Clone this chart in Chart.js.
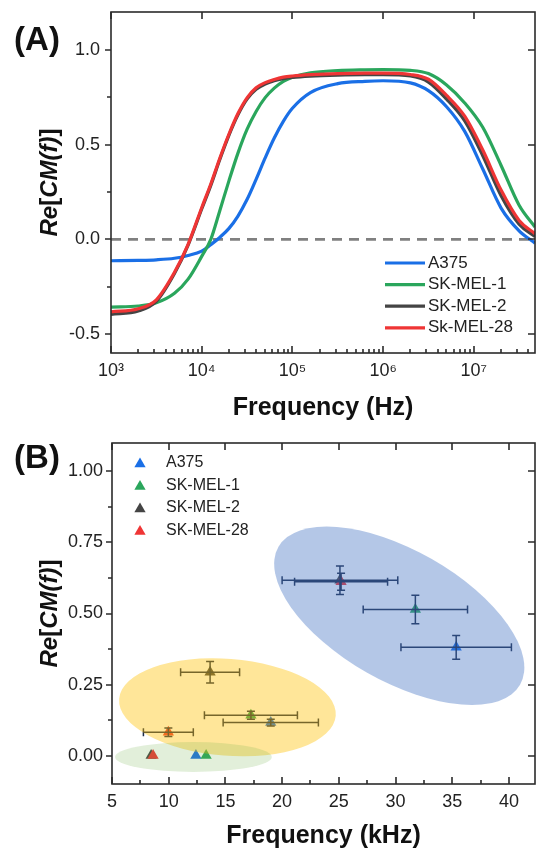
<!DOCTYPE html>
<html>
<head>
<meta charset="utf-8">
<script src="https://cdn.jsdelivr.net/npm/chart.js@4.4.1/dist/chart.umd.min.js"></script>
<style>
  html, body { margin: 0; padding: 0; background: #fff; overflow: hidden; }
  .panel { position: absolute; left: 0; width: 536px; height: 426px; }
  #panelA { top: 0; }
  #panelB { top: 426px; }
</style>
</head>
<body>
<div class="panel" id="panelA"><canvas id="chartA" width="536" height="426"></canvas></div>
<div class="panel" id="panelB"><canvas id="chartB" width="536" height="426"></canvas></div>
<script>
var FONT = "'Liberation Sans', Arial, sans-serif";

// ---------- panel A: Re[CM(f)] spectra ----------
var freqHz = [1000, 2000, 3160, 5010, 7080, 10000, 12600, 15800, 20000, 25100, 31600, 39800,
              50100, 63100, 79400, 100000, 158000, 316000, 631000, 1000000, 2000000, 3160000,
              5010000, 7940000, 12600000, 20000000, 31600000, 47300000];
var cmA375  = [-0.113, -0.111, -0.108, -0.100, -0.085, -0.062, -0.028, 0.010, 0.058, 0.123, 0.21, 0.317,
               0.43, 0.535, 0.623, 0.692, 0.775, 0.822, 0.834, 0.837, 0.826, 0.785,
               0.70, 0.57, 0.37, 0.165, 0.045, -0.02];
var cmMel1  = [-0.358, -0.352, -0.335, -0.285, -0.21, -0.09, 0.0, 0.15, 0.31, 0.455, 0.58, 0.675,
               0.748, 0.798, 0.834, 0.856, 0.879, 0.891, 0.895, 0.896, 0.892, 0.875,
               0.815, 0.72, 0.59, 0.39, 0.18, 0.065];
var cmMel2  = [-0.396, -0.378, -0.327, -0.18, -0.03, 0.16, 0.285, 0.42, 0.55, 0.657, 0.74, 0.792,
               0.82, 0.837, 0.848, 0.855, 0.862, 0.867, 0.869, 0.869, 0.862, 0.83,
               0.74, 0.625, 0.44, 0.23, 0.08, 0.015];
var cmMel28 = [-0.383, -0.366, -0.319, -0.174, -0.026, 0.167, 0.292, 0.427, 0.556, 0.664, 0.747, 0.80,
               0.827, 0.844, 0.856, 0.862, 0.869, 0.875, 0.877, 0.877, 0.87, 0.845,
               0.76, 0.65, 0.47, 0.26, 0.10, 0.03];
var zeroLineX = [1000, 47300000];
var zeroLineY = [0, 0];
var namesA = ['A375', 'SK-MEL-1', 'SK-MEL-2', 'Sk-MEL-28'];
var freqTicksA = [1e3, 1e4, 1e5, 1e6, 1e7];
var freqTickLabelsA = ['10\u00b3', '10\u2074', '10\u2075', '10\u2076', '10\u2077'];
var cmTicksA = [-0.5, 0, 0.5, 1.0];
var cmTickLabelsA = ['-0.5', '0.0', '0.5', '1.0'];
var cmMinorA = [-0.25, 0.25, 0.75];

// ---------- panel B: crossover points ----------
var namesB = ['A375', 'SK-MEL-1', 'SK-MEL-2', 'SK-MEL-28'];
var kHzA375  = [12.4, 19.0, 35.35];
var cmPtA375 = [0, 0.116, 0.381];
var kHzErrA375 = [0, 4.2, 4.87];
var cmErrA375  = [0, 0.012, 0.042];
var kHzMel1  = [13.3, 17.25, 31.75];
var cmPtMel1 = [0, 0.142, 0.514];
var kHzErrMel1 = [0, 4.1, 4.6];
var cmErrMel1  = [0, 0.014, 0.05];
var kHzMel2  = [8.45, 13.65, 25.1];
var cmPtMel2 = [0, 0.293, 0.617];
var kHzErrMel2 = [0, 2.6, 5.1];
var cmErrMel2  = [0, 0.038, 0.05];
var kHzMel28  = [8.62, 9.97, 25.2];
var cmPtMel28 = [0, 0.082, 0.612];
var kHzErrMel28 = [0, 2.2, 4.1];
var cmErrMel28  = [0, 0.015, 0.03];
var kHzTicks = [5, 10, 15, 20, 25, 30, 35, 40];
var kHzTickLabels = ['5', '10', '15', '20', '25', '30', '35', '40'];
var kHzMinor = [7.5, 12.5, 17.5, 22.5, 27.5, 32.5, 37.5];
var cmTicksB = [0, 0.25, 0.5, 0.75, 1.0];
var cmTickLabelsB = ['0.00', '0.25', '0.50', '0.75', '1.00'];
var cmMinorB = [0.125, 0.375, 0.625, 0.875];
// cluster ellipses, in data units: centre and two conjugate half-axes
var ellCx = [30.33, 15.18, 12.18];
var ellCy = [0.492, 0.170, -0.005];
var ellU = [[10.65, -0.2425], [9.55, -0.0298], [6.91, 0]];
var ellV = [[-2.87, -0.1996], [-0.336, -0.170], [0, 0.0526]];

var colors = ['#1a6fe6', '#2aa65c', '#444444', '#ef3535'];
var ellColors = ['rgba(68,114,196,0.4)', 'rgba(255,192,0,0.4)', 'rgba(112,173,71,0.2)'];

function pts(xs, ys) {
    return xs.map(function (x, i) { return { x: x, y: ys[i] }; });
}

function minorLog(decades, max) {
    var out = [];
    decades.forEach(function (d) {
        for (var m = 2; m <= 9; m++) { if (d * m <= max) out.push(d * m); }
    });
    return out;
}

// y title: Re[CM(f)] with italic parts, rotated
function drawYTitle(ctx, x, yc) {
    var parts = [['Re', true], ['[', false], ['CM(', true], ['f', true], [')', true], [']', false]];
    var size = 24;
    var total = 0;
    parts.forEach(function (p) {
        ctx.font = (p[1] ? 'italic ' : '') + 'bold ' + size + 'px ' + FONT;
        total += ctx.measureText(p[0]).width;
    });
    ctx.save();
    ctx.translate(x, yc);
    ctx.rotate(-Math.PI / 2);
    ctx.textBaseline = 'alphabetic';
    ctx.textAlign = 'left';
    ctx.fillStyle = '#111';
    var cx = -total / 2;
    parts.forEach(function (p) {
        ctx.font = (p[1] ? 'italic ' : '') + 'bold ' + size + 'px ' + FONT;
        ctx.fillText(p[0], cx, 0);
        cx += ctx.measureText(p[0]).width;
    });
    ctx.restore();
}

var frameTicks = {
    id: 'frameTicks',
    afterDraw: function (chart, args, o) {
        var ctx = chart.ctx, a = chart.chartArea, xs = chart.scales.x, ys = chart.scales.y;
        ctx.save();
        ctx.strokeStyle = '#2b2b2b';
        ctx.lineWidth = 1.6;
        ctx.strokeRect(a.left, a.top, a.right - a.left, a.bottom - a.top);
        ctx.beginPath();
        o.xMajor.forEach(function (v) {
            var px = Math.round(xs.getPixelForValue(v));
            ctx.moveTo(px, a.bottom); ctx.lineTo(px, a.bottom - 7);
            ctx.moveTo(px, a.top); ctx.lineTo(px, a.top + 7);
        });
        o.xMinor.forEach(function (v) {
            var px = Math.round(xs.getPixelForValue(v));
            ctx.moveTo(px, a.bottom); ctx.lineTo(px, a.bottom - 4);
        });
        o.yMajor.forEach(function (v) {
            var py = Math.round(ys.getPixelForValue(v));
            ctx.moveTo(a.left, py); ctx.lineTo(a.left - 6, py);
            ctx.moveTo(a.right, py); ctx.lineTo(a.right - 7, py);
        });
        o.yMinor.forEach(function (v) {
            var py = Math.round(ys.getPixelForValue(v));
            ctx.moveTo(a.left, py); ctx.lineTo(a.left - 4, py);
        });
        ctx.stroke();
        // panel letter
        ctx.fillStyle = '#111';
        ctx.font = 'bold 33px ' + FONT;
        ctx.textAlign = 'center';
        ctx.textBaseline = 'middle';
        ctx.fillText(o.letter, 37, o.letterY);
        ctx.restore();
        drawYTitle(ctx, 57, (a.top + a.bottom) / 2);
    }
};

var lineLegend = {
    id: 'lineLegend',
    afterDraw: function (chart) {
        var ctx = chart.ctx;
        ctx.save();
        ctx.font = '17px ' + FONT;
        ctx.textBaseline = 'middle';
        ctx.textAlign = 'left';
        namesA.forEach(function (name, i) {
            var y = 263 + i * 21.6;
            ctx.strokeStyle = colors[i];
            ctx.lineWidth = 3.2;
            ctx.beginPath();
            ctx.moveTo(385, y); ctx.lineTo(425, y);
            ctx.stroke();
            ctx.fillStyle = '#222';
            ctx.fillText(name, 428, y);
        });
        ctx.restore();
    }
};

function triangle(ctx, x, y, r) {
    ctx.beginPath();
    ctx.moveTo(x, y - r);
    ctx.lineTo(x + r * Math.cos(Math.PI / 6), y + r / 2);
    ctx.lineTo(x - r * Math.cos(Math.PI / 6), y + r / 2);
    ctx.closePath();
    ctx.fill();
}

var errorsAndClusters = {
    id: 'errorsAndClusters',
    afterDatasetsDraw: function (chart) {
        var ctx = chart.ctx, xs = chart.scales.x, ys = chart.scales.y;
        var sets = [[kHzA375, cmPtA375, kHzErrA375, cmErrA375],
                    [kHzMel1, cmPtMel1, kHzErrMel1, cmErrMel1],
                    [kHzMel2, cmPtMel2, kHzErrMel2, cmErrMel2],
                    [kHzMel28, cmPtMel28, kHzErrMel28, cmErrMel28]];
        ctx.save();
        ctx.strokeStyle = '#1c2a48';
        ctx.lineWidth = 1.5;
        ctx.beginPath();
        sets.forEach(function (s) {
            s[0].forEach(function (fx, i) {
                var px = xs.getPixelForValue(fx), py = ys.getPixelForValue(s[1][i]);
                if (s[2][i] > 0) {
                    var x0 = xs.getPixelForValue(fx - s[2][i]), x1 = xs.getPixelForValue(fx + s[2][i]);
                    ctx.moveTo(x0, py); ctx.lineTo(x1, py);
                    ctx.moveTo(x0, py - 4); ctx.lineTo(x0, py + 4);
                    ctx.moveTo(x1, py - 4); ctx.lineTo(x1, py + 4);
                }
                if (s[3][i] > 0) {
                    var y0 = ys.getPixelForValue(s[1][i] - s[3][i]), y1 = ys.getPixelForValue(s[1][i] + s[3][i]);
                    ctx.moveTo(px, y0); ctx.lineTo(px, y1);
                    ctx.moveTo(px - 4, y0); ctx.lineTo(px + 4, y0);
                    ctx.moveTo(px - 4, y1); ctx.lineTo(px + 4, y1);
                }
            });
        });
        ctx.stroke();
        // translucent cluster ellipses on top
        ellCx.forEach(function (cx, k) {
            var c0x = xs.getPixelForValue(cx), c0y = ys.getPixelForValue(ellCy[k]);
            var ux = xs.getPixelForValue(cx + ellU[k][0]) - c0x, uy = ys.getPixelForValue(ellCy[k] + ellU[k][1]) - c0y;
            var vx = xs.getPixelForValue(cx + ellV[k][0]) - c0x, vy = ys.getPixelForValue(ellCy[k] + ellV[k][1]) - c0y;
            ctx.save();
            ctx.translate(c0x, c0y);
            ctx.transform(ux, uy, vx, vy, 0, 0);
            ctx.beginPath();
            ctx.arc(0, 0, 1, 0, Math.PI * 2);
            ctx.restore();
            ctx.fillStyle = ellColors[k];
            ctx.fill();
        });
        ctx.restore();
    },
    afterDraw: function (chart) {
        var ctx = chart.ctx;
        ctx.save();
        ctx.font = '16px ' + FONT;
        ctx.textBaseline = 'middle';
        ctx.textAlign = 'left';
        namesB.forEach(function (name, i) {
            var y = 37 + i * 22.5;
            ctx.fillStyle = colors[i];
            triangle(ctx, 140, y + 1, 6.5);
            ctx.fillStyle = '#222';
            ctx.fillText(name, 166, y);
        });
        ctx.restore();
    }
};

var tickFont = { family: FONT, size: 18 };

// pin the plot box: no automatic label overhang padding
function fixX(h) {
    return function (s) { s.height = h; s.paddingLeft = 0; s.paddingRight = 0; };
}
function fixY(w) {
    return function (s) { s.width = w; s.paddingTop = 0; s.paddingBottom = 0; };
}

new Chart(document.getElementById('chartA'), {
    type: 'line',
    data: {
        datasets: [
            { label: 'zero', data: pts(zeroLineX, zeroLineY), borderColor: '#808080', borderWidth: 2.6,
              borderDash: [10, 7], pointRadius: 0, order: 4 },
            { label: namesA[0], data: pts(freqHz, cmA375), borderColor: colors[0], borderWidth: 3.2,
              pointRadius: 0, cubicInterpolationMode: 'monotone', order: 3 },
            { label: namesA[1], data: pts(freqHz, cmMel1), borderColor: colors[1], borderWidth: 3.2,
              pointRadius: 0, cubicInterpolationMode: 'monotone', order: 2 },
            { label: namesA[2], data: pts(freqHz, cmMel2), borderColor: colors[2], borderWidth: 3.2,
              pointRadius: 0, cubicInterpolationMode: 'monotone', order: 1 },
            { label: namesA[3], data: pts(freqHz, cmMel28), borderColor: colors[3], borderWidth: 3.2,
              pointRadius: 0, cubicInterpolationMode: 'monotone', order: 0 }
        ]
    },
    options: {
        responsive: false,
        animation: false,
        layout: { autoPadding: false, padding: { top: 12, right: 1, left: 0, bottom: 0 } },
        plugins: {
            legend: { display: false },
            tooltip: { enabled: false },
            frameTicks: { xMajor: freqTicksA, xMinor: minorLog(freqTicksA, 47300000),
                          yMajor: cmTicksA, yMinor: cmMinorA, letter: '(A)', letterY: 41 }
        },
        scales: {
            x: {
                type: 'logarithmic', min: 1000, max: 47300000,
                grid: { display: false, drawTicks: false }, border: { display: false },
                afterBuildTicks: function (s) { s.ticks = freqTicksA.map(function (v) { return { value: v }; }); },
                afterFit: fixX(73),
                ticks: { autoSkip: false, maxRotation: 0, padding: 7, color: '#222', font: tickFont,
                         callback: function (v, i) { return freqTickLabelsA[i]; } },
                title: { display: true, text: 'Frequency (Hz)', color: '#111',
                         font: { family: FONT, size: 25, weight: 'bold' }, padding: { top: 0, bottom: 3 } }
            },
            y: {
                min: -0.6, max: 1.2,
                grid: { display: false, drawTicks: false }, border: { display: false },
                afterBuildTicks: function (s) { s.ticks = cmTicksA.map(function (v) { return { value: v }; }); },
                afterFit: fixY(111),
                ticks: { autoSkip: false, padding: 11, color: '#222', font: tickFont,
                         callback: function (v, i) { return cmTickLabelsA[i]; } }
            }
        }
    },
    plugins: [frameTicks, lineLegend]
});

function scatterSet(i, xs, ys, order) {
    return { label: namesB[i], data: pts(xs, ys), pointStyle: 'triangle', pointRadius: 6.5,
             backgroundColor: colors[i], borderWidth: 0, order: order };
}

new Chart(document.getElementById('chartB'), {
    type: 'scatter',
    data: {
        datasets: [
            scatterSet(0, kHzA375, cmPtA375, 3),
            scatterSet(1, kHzMel1, cmPtMel1, 2),
            scatterSet(2, kHzMel2, cmPtMel2, 1),
            scatterSet(3, kHzMel28, cmPtMel28, 0)
        ]
    },
    options: {
        responsive: false,
        animation: false,
        layout: { autoPadding: false, padding: { top: 17, right: 1, left: 0, bottom: 0 } },
        plugins: {
            legend: { display: false },
            tooltip: { enabled: false },
            frameTicks: { xMajor: kHzTicks, xMinor: kHzMinor, yMajor: cmTicksB, yMinor: cmMinorB,
                          letter: '(B)', letterY: 33 }
        },
        scales: {
            x: {
                type: 'linear', min: 5, max: 42.3,
                grid: { display: false, drawTicks: false }, border: { display: false },
                afterBuildTicks: function (s) { s.ticks = kHzTicks.map(function (v) { return { value: v }; }); },
                afterFit: fixX(68),
                ticks: { autoSkip: false, maxRotation: 0, padding: 7, color: '#222', font: tickFont,
                         callback: function (v, i) { return kHzTickLabels[i]; } },
                title: { display: true, text: 'Frequency (kHz)', color: '#111',
                         font: { family: FONT, size: 25, weight: 'bold' }, padding: { top: 0, bottom: 1 } }
            },
            y: {
                min: -0.1, max: 1.1,
                grid: { display: false, drawTicks: false }, border: { display: false },
                afterBuildTicks: function (s) { s.ticks = cmTicksB.map(function (v) { return { value: v }; }); },
                afterFit: fixY(112),
                ticks: { autoSkip: false, padding: 9, color: '#222', font: tickFont,
                         callback: function (v, i) { return cmTickLabelsB[i]; } }
            }
        }
    },
    plugins: [frameTicks, errorsAndClusters]
});
</script>
</body>
</html>
